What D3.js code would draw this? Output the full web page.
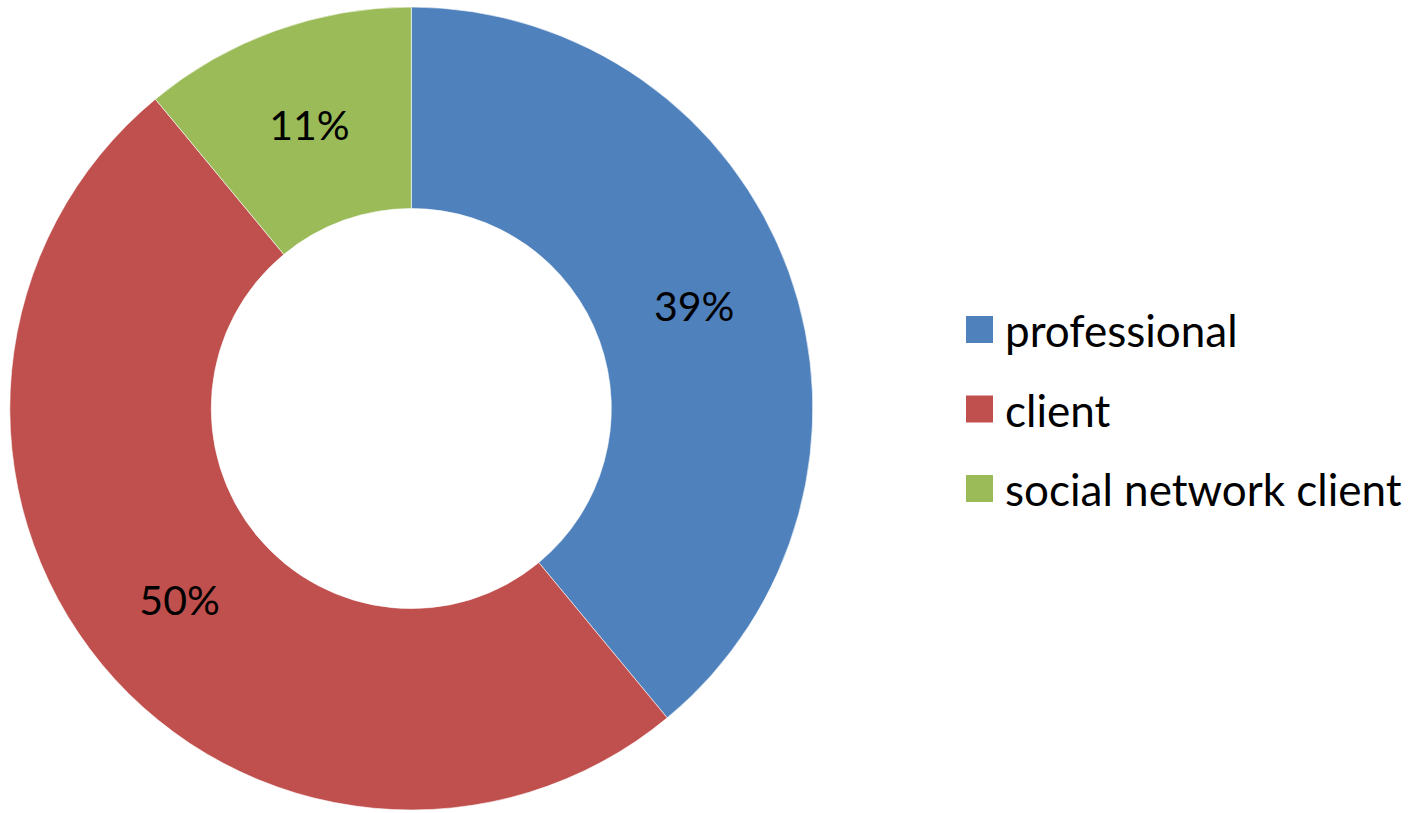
<!DOCTYPE html>
<html>
<head>
<meta charset="utf-8">
<script src="https://cdn.jsdelivr.net/npm/d3@7"></script>
<style>
  html, body { margin: 0; padding: 0; background: #fff; }
  svg { display: block; }
</style>
</head>
<body>
<div id="chart"></div>
<script>
// Chart data
const categories = ['professional', 'client', 'social network client'];
const values = [39, 50, 11];
const colors = ['#4F81BD', '#C0504D', '#9BBB59'];

const width = 1420;
const height = 813;
const cx = 411.3;
const cy = 408.5;
const outerR = 401.5;
const innerR = 200;

const svg = d3.select('#chart')
    .append('svg')
    .attr('width', width)
    .attr('height', height);

const color = d3.scaleOrdinal().domain(categories).range(colors);

const pie = d3.pie()
    .sort(null)
    .value(d => d.value);

const arc = d3.arc()
    .innerRadius(innerR)
    .outerRadius(outerR);

const data = categories.map((c, i) => ({ name: c, value: values[i] }));
const arcs = pie(data);

const g = svg.append('g').attr('transform', `translate(${cx},${cy})`);

// Slices
g.selectAll('path')
    .data(arcs)
    .join('path')
    .attr('d', arc)
    .attr('fill', d => color(d.data.name))
    .attr('stroke', '#fff')
    .attr('stroke-width', 0.6);

// Percent labels
const total = d3.sum(values);
g.selectAll('text')
    .data(arcs)
    .join('text')
    .attr('x', d => arc.centroid(d)[0])
    .attr('y', d => arc.centroid(d)[1])
    .attr('text-anchor', 'middle')
    .attr('dy', '0.36em')
    .attr('font-family', 'Lato, "Open Sans", sans-serif')
    .attr('font-size', '41px')
    .attr('fill', '#000')
    .text(d => Math.round(d.data.value / total * 100) + '%');

// Legend
const legend = svg.append('g').attr('transform', 'translate(966,316)');
const item = legend.selectAll('g')
    .data(categories)
    .join('g')
    .attr('transform', (d, i) => `translate(0,${i * 79.5})`);

item.append('rect')
    .attr('width', 27)
    .attr('height', 27)
    .attr('fill', d => color(d));

item.append('text')
    .attr('x', 39)
    .attr('y', 31)
    .attr('font-family', 'Lato, "Open Sans", sans-serif')
    .attr('font-size', '44px')
    .attr('fill', '#000')
    .text(d => d);
</script>
</body>
</html>
